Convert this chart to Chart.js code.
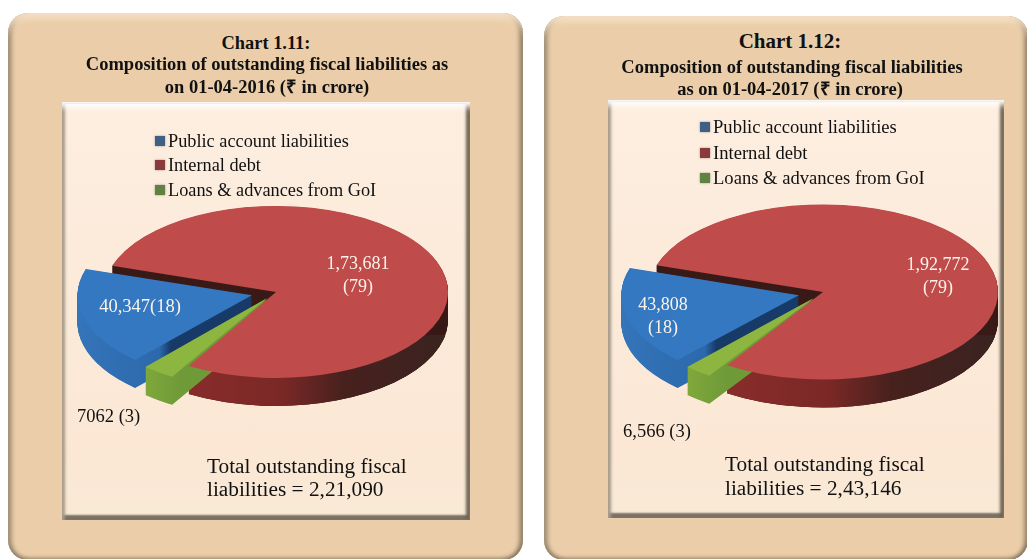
<!DOCTYPE html>
<html>
<head>
<meta charset="utf-8">
<script src="https://cdn.jsdelivr.net/npm/chart.js@4"></script>
<style>
    html, body { margin:0; padding:0; background:#fff; }
    body { width:1027px; height:559px; position:relative; overflow:hidden; font-family:"Liberation Serif", serif; color:#111; }
    .outer { position:absolute; background:#ebcea9; border-radius:20px;
        box-shadow: inset 0 8px 6px -3px #f6e2c8, inset 5px 0 5px -2px #8d7d68, inset -5px 0 5px -2px #7d6c58, inset 0 -4px 4px -2px #a08a70; }
    .inner { position:absolute; background:linear-gradient(#fdeee0, #fbe7d4 85%, #f8ead6);
        box-shadow: inset 0 9px 6px -4px #fff, inset 0 2px 1px #8f8473, inset 4px 0 3px -1px #a39684, inset -5px 0 3px -1px #6e6253, inset 0 -6px 2px -1px #7b7066; }
    canvas { position:absolute; }
    .txt { position:absolute; white-space:nowrap; transform:translateY(-50%); line-height:1; }
    .mid { transform:translate(-50%,-50%); }
    .head { font-weight:bold; }
    .white { color:#fbf3ea; }
    .swatch { position:absolute; width:10px; height:10px; transform:translateY(-50%); box-shadow:0 0 2px rgba(90,90,90,.6); }
</style>
</head>
<body>
<div class="outer" style="left:8px; top:13px; width:515px; height:547px;"></div>
<div class="inner" style="left:62px; top:102px; width:408px; height:418px;"></div>
<div class="outer" style="left:544px; top:16px; width:484px; height:544px;"></div>
<div class="inner" style="left:608px; top:100px; width:396px; height:418px;"></div>
<canvas id="pie2016" width="444" height="444" style="left:54px; top:70px;"></canvas>
<canvas id="pie2017" width="450" height="450" style="left:598px; top:67px;"></canvas>
<div id="texts"></div>

<script>
// DATA
const categories = ['Public account liabilities', 'Internal debt', 'Loans & advances from GoI'];
const values2016 = [40347, 173681, 7062];
const values2017 = [43808, 192772, 6566];
const labels2016 = ['40,347(18)', '1,73,681', '(79)', '7062 (3)'];
const labels2017 = ['43,808', '(18)', '1,92,772', '(79)', '6,566 (3)'];
const totals = ['2,21,090', '2,43,146'];

const topColors = ['#3478c2', '#bf4b4a', '#8cb63f'];
const legendColors = ['#3f5f85', '#8a3a3a', '#5f8240'];

// pie look: flatten to an ellipse and pull a wall down under it
const FLATTEN = 0.5;
const DEPTH = 28;

const pie3d = {
    id: 'pie3d',
    beforeDatasetsDraw(chart) {
        const ctx = chart.ctx;
        const arcs = chart.getDatasetMeta(0).data;
        const cy = arcs[0].y;
        const cx = arcs[0].x;
        const r = arcs[1].outerRadius;

        ctx.save();
        // flatten everything the datasets draw, restored in afterDatasetsDraw
        ctx.translate(0, cy);
        ctx.scale(1, FLATTEN);
        ctx.translate(0, -cy);

        const steps = DEPTH / FLATTEN;
        const wall = (arc, color) => {
            const saved = arc.options;
            arc.options = Object.assign({}, saved, { backgroundColor: color, borderWidth: 0 });
            for (let i = steps; i > 0; i -= 1) {
                ctx.save();
                ctx.translate(0, i);
                arc.draw(ctx);
                ctx.restore();
            }
            arc.options = saved;
        };

        // red: dark cut face first, then the shaded outer wall on the lower part
        wall(arcs[1], '#3a1b18');
        const redGrad = ctx.createLinearGradient(cx - r * 0.6, 0, cx + r, 0);
        redGrad.addColorStop(0, '#8a2d2b');
        redGrad.addColorStop(0.4, '#7a2826');
        redGrad.addColorStop(0.62, '#47211e');
        redGrad.addColorStop(1, '#3a2320');
        ctx.save();
        ctx.beginPath();
        ctx.rect(0, cy + r * 0.5, chart.width, chart.height * 2);
        ctx.clip();
        wall(arcs[1], redGrad);
        ctx.restore();

        // blue: lighter outside, dark on the cut face
        const blueGrad = ctx.createLinearGradient(cx - r, 0, cx - r * 0.2, 0);
        blueGrad.addColorStop(0, '#3474b8');
        blueGrad.addColorStop(0.58, '#2c68ac');
        blueGrad.addColorStop(0.66, '#173a68');
        blueGrad.addColorStop(1, '#173a68');
        wall(arcs[0], blueGrad);

        const greenGrad = ctx.createLinearGradient(cx - r * 0.8, 0, cx - r * 0.5, 0);
        greenGrad.addColorStop(0, '#86ad3c');
        greenGrad.addColorStop(1, '#6f9a38');
        wall(arcs[2], greenGrad);
    },
    afterDatasetsDraw(chart) {
        chart.ctx.restore();
    }
};

function makePie(canvasId, values, rotation, offsets) {
    return new Chart(document.getElementById(canvasId), {
        type: 'pie',
        data: {
            labels: categories,
            datasets: [{
                data: values,
                backgroundColor: topColors,
                borderWidth: 0,
                offset: offsets
            }]
        },
        options: {
            responsive: false,
            animation: false,
            rotation: rotation,
            plugins: { legend: { display: false }, tooltip: { enabled: false } }
        },
        plugins: [pie3d]
    });
}

makePie('pie2016', values2016, 222, [100, 0, 60]);
makePie('pie2017', values2017, 223, [100, 0, 60]);

// TEXT
const box = document.getElementById('texts');
function addText(text, x, y, size, cls) {
    const el = document.createElement('div');
    el.className = 'txt ' + (cls || '');
    el.style.left = x + 'px';
    el.style.top = y + 'px';
    el.style.fontSize = size + 'px';
    el.textContent = text;
    box.appendChild(el);
}
function addLegend(x, ys, size) {
    categories.forEach((c, i) => {
        const s = document.createElement('div');
        s.className = 'swatch';
        s.style.left = x + 'px';
        s.style.top = ys[i] + 'px';
        s.style.background = legendColors[i];
        box.appendChild(s);
        addText(c, x + 13, ys[i], size);
    });
}

addText('Chart 1.11:', 266, 43, 18.4, 'mid head');
addText('Composition of outstanding fiscal liabilities as', 267, 64, 18.5, 'mid head');
addText('on 01-04-2016 (₹ in crore)', 267, 87, 18.5, 'mid head');
addLegend(155, [141, 165, 190], 18.3);
addText(labels2016[1], 358, 263, 18, 'mid white');
addText(labels2016[2], 358, 286, 18, 'mid white');
addText(labels2016[0], 140, 306, 18.5, 'mid white');
addText(labels2016[3], 77, 416, 18.5);
addText('Total outstanding fiscal', 207, 467, 21.3);
addText('liabilities = ' + totals[0], 207, 490, 21.3);

addText('Chart 1.12:', 790, 41, 21, 'mid head');
addText('Composition of outstanding fiscal liabilities', 792, 67, 18.5, 'mid head');
addText('as on 01-04-2017 (₹ in crore)', 790, 89, 18.5, 'mid head');
addLegend(700, [127, 153, 178], 18.6);
addText(labels2017[2], 938, 264, 18, 'mid white');
addText(labels2017[3], 938, 287, 18, 'mid white');
addText(labels2017[0], 663, 304, 18, 'mid white');
addText(labels2017[1], 663, 327, 18, 'mid white');
addText(labels2017[4], 623, 431, 18.5);
addText('Total outstanding fiscal', 725, 465, 21.3);
addText('liabilities = ' + totals[1], 725, 489, 21.3);
</script>
</body>
</html>
